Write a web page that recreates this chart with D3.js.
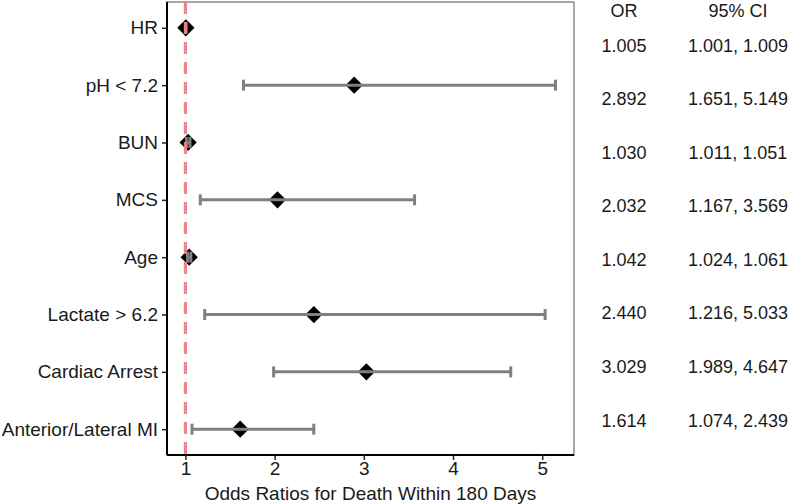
<!DOCTYPE html>
<html>
<head>
<meta charset="utf-8">
<script src="https://cdn.jsdelivr.net/npm/d3@7"></script>
<style>
  body { margin: 0; background: #fff; }
  text { font-family: "Liberation Sans", Arial, sans-serif; fill: #1a1a1a; }
</style>
</head>
<body>
<div id="grafica"></div>
<script>
// datos del forest plot
var variables = ['HR', 'pH < 7.2', 'BUN', 'MCS', 'Age', 'Lactate > 6.2', 'Cardiac Arrest', 'Anterior/Lateral MI']
var oddsRatio = [1.005, 2.892, 1.030, 2.032, 1.042, 2.440, 3.029, 1.614]
var ciLow = [1.001, 1.651, 1.011, 1.167, 1.024, 1.216, 1.989, 1.074]
var ciHigh = [1.009, 5.149, 1.051, 3.569, 1.061, 5.033, 4.647, 2.439]
var xTicks = [1, 2, 3, 4, 5]
var tablaHeader = ['OR', '95% CI']

var W = 789, H = 504
var margin = { top: 2, right: 215, bottom: 49, left: 167 }
var width = W - margin.left - margin.right
var height = H - margin.top - margin.bottom

var svg = d3.select('#grafica')
    .append('svg')
    .attr('width', W)
    .attr('height', H)

var g = svg.append('g')
    .attr('transform', 'translate(' + margin.left + ',' + margin.top + ')')

var lo = d3.min(ciLow), hi = d3.max(ciHigh)
var pad = (hi - lo) * 0.05
var x = d3.scaleLinear()
    .domain([lo - pad, hi + pad])
    .range([0, width])

var y = d3.scalePoint()
    .domain(variables)
    .range([0, height])
    .padding(0.45)

var datos = variables.map(function (v, i) {
    return { name: v, or: oddsRatio[i], lo: ciLow[i], hi: ciHigh[i] }
})

// borde del panel (arriba y derecha gris)
g.append('rect')
    .attr('x', 0).attr('y', 0)
    .attr('width', width).attr('height', height)
    .attr('fill', 'none')
    .attr('stroke', '#8a8a8a')
    .attr('stroke-width', 1.5)

// diamantes
var diamond = d3.symbol().type(d3.symbolDiamond2).size(190)
g.selectAll('path.pt')
    .data(datos)
    .enter()
    .append('path')
    .attr('class', 'pt')
    .attr('d', diamond)
    .attr('transform', function (d) { return 'translate(' + x(d.or) + ',' + y(d.name) + ')' })
    .attr('fill', '#000')

// barras de error
var eb = g.selectAll('g.eb')
    .data(datos)
    .enter()
    .append('g')
    .attr('class', 'eb')
    .attr('stroke', '#808080')
    .attr('stroke-width', 3)

eb.append('line')
    .attr('x1', function (d) { return x(d.lo) })
    .attr('x2', function (d) { return x(d.hi) })
    .attr('y1', function (d) { return y(d.name) })
    .attr('y2', function (d) { return y(d.name) })

eb.append('line')
    .attr('x1', function (d) { return x(d.lo) })
    .attr('x2', function (d) { return x(d.lo) })
    .attr('y1', function (d) { return y(d.name) - 5.5 })
    .attr('y2', function (d) { return y(d.name) + 5.5 })

eb.append('line')
    .attr('x1', function (d) { return x(d.hi) })
    .attr('x2', function (d) { return x(d.hi) })
    .attr('y1', function (d) { return y(d.name) - 5.5 })
    .attr('y2', function (d) { return y(d.name) + 5.5 })

// linea de referencia OR = 1
g.append('line')
    .attr('x1', x(1)).attr('x2', x(1))
    .attr('y1', 0).attr('y2', height)
    .attr('stroke', '#ef7f86')
    .attr('stroke-width', 3.2)
    .attr('stroke-dasharray', '12,8')
    .attr('opacity', 0.95)

// ejes
var xAxis = g.append('g')
    .attr('transform', 'translate(0,' + height + ')')
    .call(d3.axisBottom(x).tickValues(xTicks).tickFormat(d3.format('d')).tickSize(5).tickPadding(2))
var yAxis = g.append('g')
    .call(d3.axisLeft(y).tickSize(5).tickPadding(4))

xAxis.select('.domain').attr('stroke', '#000').attr('stroke-width', 2).attr('d', 'M0,0H' + width)
yAxis.select('.domain').attr('stroke', '#000').attr('stroke-width', 2).attr('d', 'M0,0V' + height)
svg.selectAll('.tick line').attr('stroke', '#222').attr('stroke-width', 1.5)
svg.selectAll('.tick text')
    .style('font-family', '"Liberation Sans", Arial, sans-serif')
    .style('font-size', '19px')
    .attr('fill', '#1a1a1a')

g.append('text')
    .attr('x', width / 2)
    .attr('y', height + 45)
    .attr('text-anchor', 'middle')
    .style('font-size', '19px')
    .text('Odds Ratios for Death Within 180 Days')

// tabla a la derecha
var colX = [624, 738]
svg.selectAll('text.hdr')
    .data(tablaHeader)
    .enter()
    .append('text')
    .attr('class', 'hdr')
    .attr('x', function (d, i) { return colX[i] })
    .attr('y', 17)
    .attr('text-anchor', 'middle')
    .style('font-size', '18px')
    .text(function (d) { return d })

var rowY = d3.scalePoint().domain(variables).range([45, 420])
var filas = svg.selectAll('g.fila')
    .data(datos)
    .enter()
    .append('g')
    .attr('class', 'fila')
    .attr('transform', function (d) { return 'translate(0,' + (rowY(d.name) + 6.5) + ')' })

filas.append('text')
    .attr('x', colX[0])
    .attr('text-anchor', 'middle')
    .style('font-size', '18px')
    .text(function (d) { return d3.format('.3f')(d.or) })

filas.append('text')
    .attr('x', colX[1])
    .attr('text-anchor', 'middle')
    .style('font-size', '18px')
    .text(function (d) { return d3.format('.3f')(d.lo) + ', ' + d3.format('.3f')(d.hi) })
</script>
</body>
</html>
